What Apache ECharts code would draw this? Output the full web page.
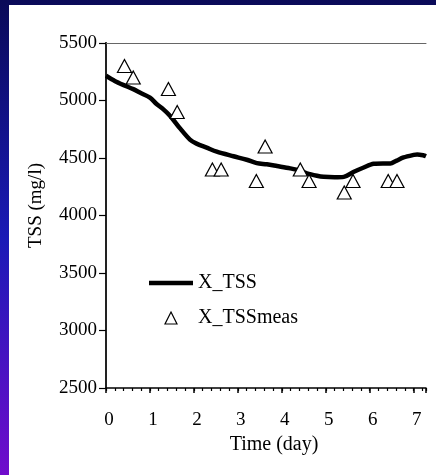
<!DOCTYPE html>
<html>
<head>
<meta charset="utf-8">
<script src="https://cdn.jsdelivr.net/npm/echarts@6/dist/echarts.min.js"></script>
<style>
  html, body { margin: 0; padding: 0; }
  #main { width: 436px; height: 475px; }
</style>
</head>
<body>
<div id="main"></div>
<script>
// simulated X_TSS curve
var simDays = [0, 0.2, 0.39, 0.62, 0.77, 1.0, 1.15, 1.3, 1.46, 1.69, 1.91, 2.06, 2.29, 2.52, 2.9, 3.2, 3.43, 3.66, 3.89,
  4.19, 4.42, 4.57, 4.8, 4.95, 5.2, 5.41, 5.64, 5.85, 6.09, 6.3, 6.47, 6.6, 6.77, 7.0, 7.08, 7.23, 7.28];
var simTSS = [5215, 5170, 5136, 5099, 5069, 5025, 4970, 4925, 4866, 4755, 4660, 4625, 4590, 4555, 4515, 4485, 4455, 4445, 4430,
  4410, 4390, 4366, 4345, 4336, 4332, 4336, 4380, 4415, 4450, 4453, 4453, 4475, 4505, 4527, 4531, 4522, 4515];

// measured points
var measDays = [0.42, 0.62, 1.42, 1.62, 2.42, 2.62, 3.42, 3.62, 4.42, 4.62, 5.42, 5.62, 6.42, 6.62];
var measTSS = [5300, 5200, 5100, 4900, 4400, 4400, 4300, 4600, 4400, 4300, 4200, 4300, 4300, 4300];

var xMin = 0, xMax = 7.28;
var yMin = 2500, yMax = 5500;

var font = 'Liberation Serif';

var chart = echarts.init(document.getElementById('main'));

var option = {
  animation: false,
  textStyle: { fontFamily: font },
  graphic: [
    {
      type: 'rect', z: -10, silent: true,
      shape: { x: 0, y: 0, width: 436, height: 475 },
      style: {
        fill: new echarts.graphic.LinearGradient(0, 0, 0, 1, [
          { offset: 0, color: '#0a0a58' },
          { offset: 0.5, color: '#1a1ab6' },
          { offset: 1, color: '#700ccc' }
        ])
      }
    },
    {
      type: 'rect', z: -9, silent: true,
      shape: { x: 9, y: 5, width: 427, height: 470 },
      style: { fill: '#ffffff' }
    }
  ],
  grid: [
    { left: 106, right: 10, top: 43, bottom: 87 },
    { left: 106, right: 10, top: 43, bottom: 87 }
  ],
  legend: {
    orient: 'vertical',
    left: 149,
    top: 273,
    padding: 0,
    itemWidth: 44,
    itemHeight: 12,
    itemGap: 15,
    symbolKeepAspect: true,
    textStyle: { fontFamily: font, fontSize: 20, color: '#000' },
    data: [
      {
        name: 'X_TSS',
        icon: 'path://M0,0 L44,0 L44,4.5 L0,4.5 Z',
        itemStyle: { color: '#000', borderWidth: 0 }
      },
      {
        name: 'X_TSSmeas',
        icon: 'path://M6,0 L12,12 L0,12 Z',
        itemStyle: { color: '#fff', borderColor: '#000', borderWidth: 1.2 }
      }
    ]
  },
  xAxis: [
    {
      type: 'value', gridIndex: 0, position: 'bottom',
      min: xMin, max: xMax, interval: 1,
      name: 'Time (day)', nameLocation: 'middle', nameGap: 43,
      nameTextStyle: { fontFamily: font, fontSize: 20, color: '#000', padding: [0, 0, 0, 16] },
      axisLine: { show: true, lineStyle: { color: '#000', width: 1.5 } },
      axisTick: { show: true, inside: false, length: 5, lineStyle: { color: '#000', width: 1.5 } },
      axisLabel: {
        margin: 23, fontFamily: font, fontSize: 19, color: '#000', padding: [0, 0, 0, 6],
        formatter: function (v) { return Math.abs(v - Math.round(v)) < 1e-6 ? String(Math.round(v)) : ''; }
      },
      splitLine: { show: false }
    },
    {
      type: 'value', gridIndex: 0, position: 'top',
      min: xMin, max: xMax,
      axisLine: { show: true, lineStyle: { color: '#666', width: 1 } },
      axisTick: { show: false }, axisLabel: { show: false }, splitLine: { show: false }
    },
    {
      type: 'value', gridIndex: 1, position: 'bottom',
      min: xMin, max: xMax, interval: 0.2,
      axisLine: { show: false },
      axisTick: { show: true, inside: false, length: 3, lineStyle: { color: '#000', width: 1.2 } },
      axisLabel: { show: false }, splitLine: { show: false }
    }
  ],
  yAxis: [
    {
      type: 'value', gridIndex: 0, position: 'left',
      min: yMin, max: yMax, interval: 500,
      name: 'TSS (mg/l)', nameLocation: 'middle', nameGap: 60,
      nameTextStyle: { fontFamily: font, fontSize: 19, color: '#000', padding: [0, 0, 0, 20] },
      axisLine: { show: true, lineStyle: { color: '#000', width: 1.5 } },
      axisTick: { show: true, inside: false, length: 7, lineStyle: { color: '#000', width: 1.2 } },
      axisLabel: {
        margin: 9, fontFamily: font, fontSize: 19, color: '#000',
        formatter: function (v) { return String(v); }
      },
      splitLine: { show: false }
    },
    {
      type: 'value', gridIndex: 0, position: 'right',
      min: yMin, max: yMax,
      axisLine: { show: true, lineStyle: { color: '#222', width: 2 } },
      axisTick: { show: false }, axisLabel: { show: false }, splitLine: { show: false }
    },
    {
      type: 'value', gridIndex: 1, min: yMin, max: yMax, show: false
    }
  ],
  series: [
    {
      name: 'X_TSS',
      type: 'line',
      xAxisIndex: 0, yAxisIndex: 0,
      symbol: 'none',
      smooth: 0.3,
      data: simDays.map(function (d, i) { return [d, simTSS[i]]; }),
      lineStyle: { color: '#000', width: 4.5 },
      itemStyle: { color: '#000' },
      z: 2
    },
    {
      name: 'X_TSSmeas',
      type: 'scatter',
      xAxisIndex: 0, yAxisIndex: 0,
      symbol: 'triangle',
      symbolSize: [14, 13],
      data: measDays.map(function (d, i) { return [d, measTSS[i]]; }),
      itemStyle: { color: '#fff', borderColor: '#000', borderWidth: 1.2, opacity: 1 },
      z: 3
    }
  ]
};

chart.setOption(option);
</script>
</body>
</html>
